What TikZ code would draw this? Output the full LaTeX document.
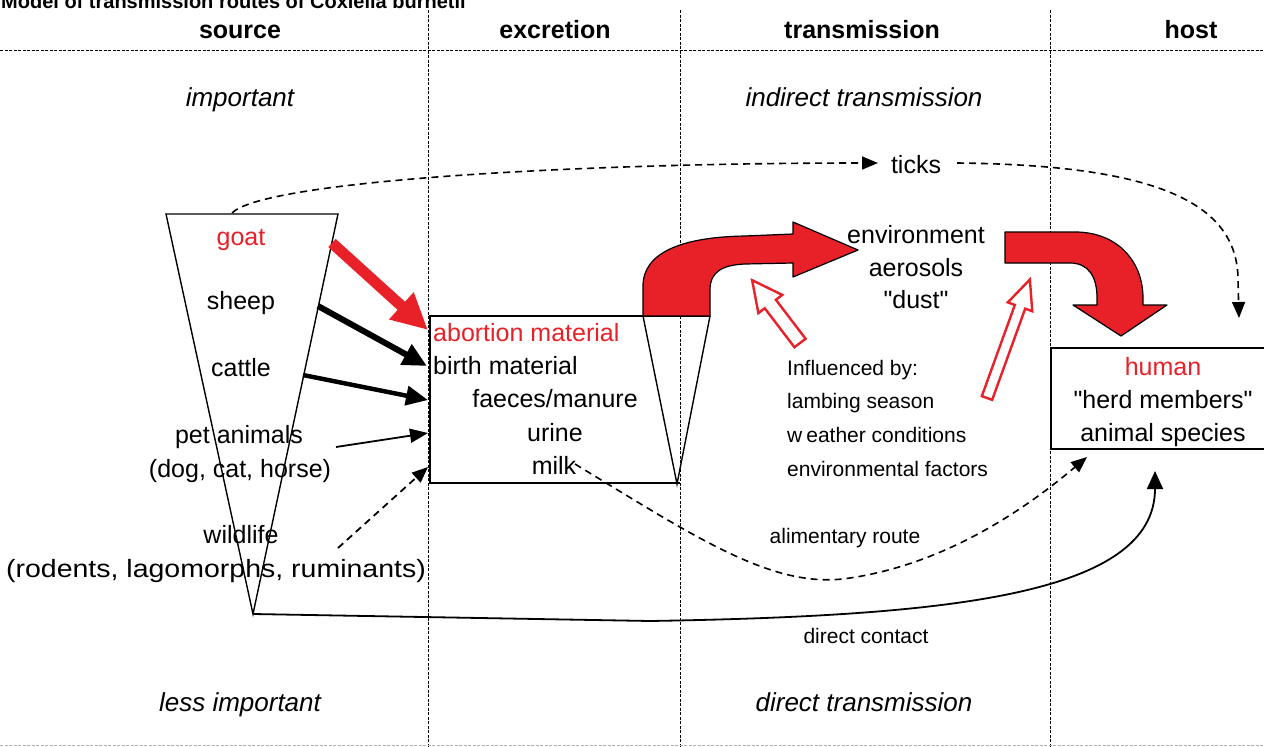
\documentclass[tikz,border=0pt]{standalone}
\usepackage{fontspec}
\setmainfont{Liberation Sans}[Ligatures=TeXOff]
\usetikzlibrary{arrows.meta}
\definecolor{cbred}{RGB}{232,32,40}
\begin{document}
\begin{tikzpicture}[x=1pt,y=-1pt,
  txt/.style={inner sep=0pt, anchor=base, font=\fontsize{25}{30}\selectfont},
  redtxt/.style={txt, text=cbred},
  hdr/.style={inner sep=0pt, anchor=base, font=\fontsize{25}{28}\selectfont\bfseries},
  itl/.style={inner sep=0pt, anchor=base, font=\fontsize{26}{30}\selectfont\itshape},
  smalltxt/.style={inner sep=0pt, anchor=base west, font=\fontsize{21}{25}\selectfont},
  midtxt/.style={inner sep=0pt, anchor=base, font=\fontsize{21}{25}\selectfont},
  titlef/.style={inner sep=0pt, anchor=base west, font=\fontsize{20}{22}\selectfont\bfseries},
  sep/.style={line width=0.8pt, dash pattern=on 3pt off 1.5pt},
  shape line/.style={line width=1.4pt},
  redbend/.style={fill=cbred, draw=black, line width=1.2pt, line join=round},
  hollowred/.style={draw=cbred, fill=white, line width=2.4pt, line join=miter},
  redthick/.style={draw=cbred, line width=11pt, -{Triangle[length=36pt,width=34pt]}},
  blackthick/.style={line width=6pt, -{Triangle[length=24pt,width=22pt]}},
  blackmid/.style={line width=4.5pt, -{Triangle[length=22pt,width=19pt]}},
  blackthin/.style={line width=1.8pt, -{Triangle[length=18pt,width=14pt]}},
  dsh/.style={line width=1.6pt, dash pattern=on 7pt off 5pt, -{Triangle[length=16pt,width=13pt]}},
  solidarr/.style={line width=1.8pt, -{Triangle[length=18pt,width=16pt]}}
]
\useasboundingbox (0,0) rectangle (1264,747);
\fill[white] (0,0) rectangle (1264,747);

% title (partly cut off at the top, as in the reference)
\node[titlef] (title) at (1,8) {Model of transmission routes of Coxiella burnetii};

% frame
\draw[sep] (0,50) -- (1264,50);
\draw[sep] (428,10) -- (428,747);
\draw[sep] (680,10) -- (680,747);
\draw[sep] (1050,10) -- (1050,747);
\draw[sep, black!30] (0,745) -- (1264,745);

% headers
\node[hdr] (hsrc) at (240,38) {source};
\node[hdr] (hexc) at (555,38) {excretion};
\node[hdr] (htra) at (862,38) {transmission};
\node[hdr] (hhost) at (1191,38) {host};

\node[itl] (imp) at (240,106) {important};
\node[itl] (ind) at (864,106) {indirect transmission};
\node[itl] (limp) at (240,711) {less important};
\node[itl] (dir) at (864,711) {direct transmission};

% source triangle
\coordinate (tA) at (166,214);
\coordinate (tB) at (338,214);
\coordinate (tC) at (253,614);
\draw[shape line, line join=miter] (tA) -- (tB) -- (tC) -- cycle;

\node[redtxt] (goat) at (241,245) {goat};
\node[txt] (sheep) at (241,309) {sheep};
\node[txt] (cattle) at (241,376) {cattle};
\node[txt] (pet) at (239,443) {pet animals};
\node[txt] (pet2) at (240,477) {(dog, cat, horse)};
\node[txt] (wild) at (241,543) {wildlife};
\node[txt] (wild2) at (216,577) {\scalebox{1.14}[1]{(rodents, lagomorphs, ruminants)}};

% excretion box
\coordinate (bTL) at (430,316);
\coordinate (bBL) at (430,483);
\coordinate (bTR) at (710,316);
\coordinate (bBR) at (680,483);
\coordinate (eA) at (643,316);
\coordinate (eC) at (677,484);
\draw[shape line] (bTR) -- (bTL) -- (bBL) -- (bBR);
\draw[shape line] (eA) -- (eC) -- (bTR);

\node[redtxt, anchor=base west] (abort) at (433,341) {abortion material};
\node[txt, anchor=base west] (birth) at (433,374) {birth material};
\node[txt] (faec) at (555,407) {faeces/manure};
\node[txt] (urine) at (555,441) {urine};
\node[txt] (milk) at (554,474) {milk};

% arrows source -> excretion
\coordinate (gS) at (332,243); \coordinate (gE) at (428,330);
\coordinate (sS) at (318,306); \coordinate (sE) at (427,366);
\coordinate (cS) at (303,375); \coordinate (cE) at (428,400);
\coordinate (pS) at (336,447); \coordinate (pE) at (428,433);
\coordinate (wS) at (338,548); \coordinate (wE) at (428,467);
\draw[redthick] (gS) -- (gE);
\draw[blackthick] (sS) -- (sE);
\draw[blackmid] (cS) -- (cE);
\draw[blackthin] (pS) -- (pE);
\draw[dsh, line width=1.8pt] (wS) -- (wE);

% red bent arrow 1 (excretion -> environment)
\filldraw[redbend] (643,316) -- (643,286) .. controls (643,252) and (683,237) .. (745,236) -- (793,234) -- (793,222) -- (858,250) -- (793,277) -- (793,263) -- (745,264) .. controls (722,265) and (710,272) .. (710,290) -- (710,316) -- cycle;

% environment text
\node[txt] (env) at (916,243) {environment};
\node[txt] (aer) at (916,276) {aerosols};
\node[txt] (dust) at (916,308) {"dust"};

% red bent arrow 2 (environment -> host)
\filldraw[redbend] (1005,232) -- (1075,232) .. controls (1118,232) and (1143,262) .. (1143,298) -- (1143,305) -- (1167,305) -- (1121,336) -- (1073,305) -- (1097,305) -- (1097,298) .. controls (1097,276) and (1088,263) .. (1070,263) -- (1005,263) -- cycle;

% hollow influence arrows
\begin{scope}[shift={(800,343)}, rotate=127.3]
\draw[hollowred] (0,-7) -- (49,-7) -- (49,-15) -- (79,0) -- (49,15) -- (49,7) -- (0,7) -- cycle;
\end{scope}
\begin{scope}[shift={(987,398)}, rotate=70.1]
\draw[hollowred] (0,-5.5) -- (97,-5.5) -- (97,-13) -- (126,0) -- (97,13) -- (97,5.5) -- (0,5.5) -- cycle;
\end{scope}

% influenced by
\node[smalltxt] (inf1) at (787,375) {Influenced by:};
\node[smalltxt] (inf2) at (787,408) {lambing season};
\node[smalltxt] (inf3) at (787,442) {w\kern4pt eather conditions};
\node[smalltxt] (inf4) at (787,476) {environmental factors};

% ticks
\node[txt] (ticks) at (916,173) {ticks};
\coordinate (tk1) at (232,213);
\coordinate (tk2) at (878,163);
\coordinate (tk3) at (957,163);
\coordinate (tk4) at (1239,318);
\draw[dsh] (tk1) .. controls (262,182) and (560,163) .. (tk2);
\draw[dsh] (tk3) .. controls (1150,165) and (1238,200) .. (1238,280) -- (tk4);

% host box
\draw[shape line] (1264,348) -- (1051,348) -- (1051,449) -- (1264,449);
\node[redtxt] (human) at (1163,375) {human};
\node[txt] (herd) at (1163,408) {"herd members"};
\node[txt] (anim) at (1163,441) {animal species};

% alimentary route
\coordinate (mS) at (575,464);
\coordinate (mE) at (1087,457);
\draw[dsh] (mS) .. controls (700,540) and (775,590) .. (850,578) .. controls (950,563) and (1030,505) .. (mE);
\node[midtxt] (alim) at (845,543) {alimentary route};

% direct contact
\coordinate (dE) at (1155,471);
\draw[solidarr] (tC) -- (650,621) .. controls (950,616) and (1155,595) .. (dE);
\node[midtxt] (dcon) at (866,643) {direct contact};
\end{tikzpicture}
\end{document}
